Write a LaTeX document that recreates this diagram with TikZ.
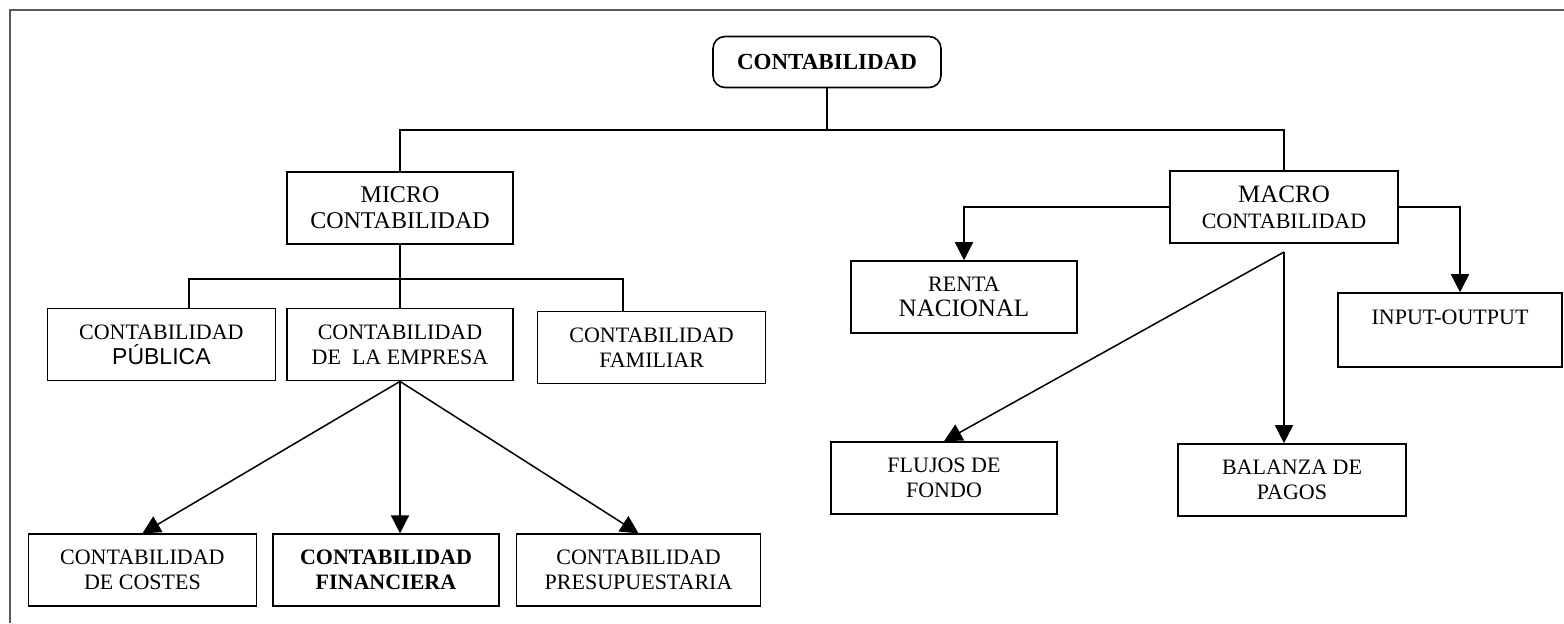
\documentclass[tikz,border=0pt]{standalone}
\usepackage{fontspec}
\setmainfont{Liberation Serif}
\newfontfamily\arialfont{Liberation Sans}
\usetikzlibrary{arrows.meta, positioning}
\newcommand{\grandtxt}[1]{{\fontsize{12.5}{12.5}\selectfont #1}}

\begin{document}
\begin{tikzpicture}[
			x=0.5pt, y=-0.5pt,
			node distance=8pt,
			block/.style={rectangle, draw, line width=0.8pt, align=center, inner sep=0pt,
				minimum height=36pt, minimum width=113pt, font=\fontsize{11}{12.5}\selectfont},
			head/.style={block, rounded corners=6pt, minimum height=25.5pt, minimum width=114pt,
				font=\fontsize{11.5}{13}\selectfont\bfseries},
			mid/.style={block, font=\fontsize{12}{13}\selectfont},
			link/.style={line width=0.75pt},
			arr/.style={line width=0.75pt, -{Triangle[length=9pt, width=9pt]}}
		]
			\useasboundingbox (0,0) rectangle (1564,623);
			\draw[black!65, line width=1pt] (10,623) -- (10,10) -- (1564,10);

			\node[head] (conta) at (827,62) {CONTABILIDAD};
			\node[mid] (micro) at (400,208) {MICRO\\CONTABILIDAD};
			\node[block, minimum width=114pt, font=\fontsize{11}{13}\selectfont] (macro) at (1284,207)
				{\grandtxt{MACRO}\\CONTABILIDAD};

			\node[block, below=31.5pt of micro] (empresa) {CONTABILIDAD\\DE~ LA EMPRESA};
			\node[block, left=5pt of empresa, minimum width=114pt] (publica)
				{CONTABILIDAD\\{\arialfont\fontsize{11.5}{12.5}\selectfont PÚBLICA}};
			\node[block, right=11.5pt of empresa, yshift=-1.5pt, minimum width=114pt] (familiar)
				{CONTABILIDAD\\FAMILIAR};
			\node[block, below=76pt of empresa, xshift=-7pt, font=\fontsize{11}{12.5}\selectfont\bfseries]
				(financiera) {CONTABILIDAD\\FINANCIERA};
			\node[block, left=7.5pt of financiera, minimum width=114pt] (costes) {CONTABILIDAD\\DE COSTES};
			\node[block, right=8pt of financiera, minimum width=122pt] (presup) {CONTABILIDAD\\PRESUPUESTARIA};

			\node[block] (renta) at (964,297) {RENTA\\{\fontsize{12.5}{12.5}\selectfont NACIONAL}};
			\node[block, minimum width=112pt, minimum height=37pt] (inout) at (1450,330) {INPUT-OUTPUT\\\mbox{}};
			\node[block] (flujos) at (944,478) {FLUJOS DE\\FONDO};
			\node[block, minimum width=114pt] (balanza) at (1292,480) {BALANZA DE\\PAGOS};

			\coordinate (busA) at (400,130);
			\coordinate (busB) at (189,279);
			\coordinate (busC) at (623,279);
			\coordinate (fork) at (1284,252);

			\draw[link] (conta.south) -- (conta.south |- busA);
			\draw[link] (micro.north) -- (busA) -| (macro.north);
			\draw[link] (micro.south) -- (empresa.north);
			\draw[link] (busB |- publica.north) -- (busB) -- (busC) -- (busC |- familiar.north);

			\draw[arr] (empresa.south) -- (costes.north);
			\draw[arr] (empresa.south) -- (empresa.south |- financiera.north);
			\draw[arr] (empresa.south) -- (presup.north);

			\draw[arr] (macro.west) -| (renta.north);
			\draw[arr] (macro.east) -| ([xshift=5pt]inout.north);
			\draw[arr] (fork) -- (flujos.north);
			\draw[arr] (fork) -- (fork |- balanza.north);
		\end{tikzpicture}
\end{document}
